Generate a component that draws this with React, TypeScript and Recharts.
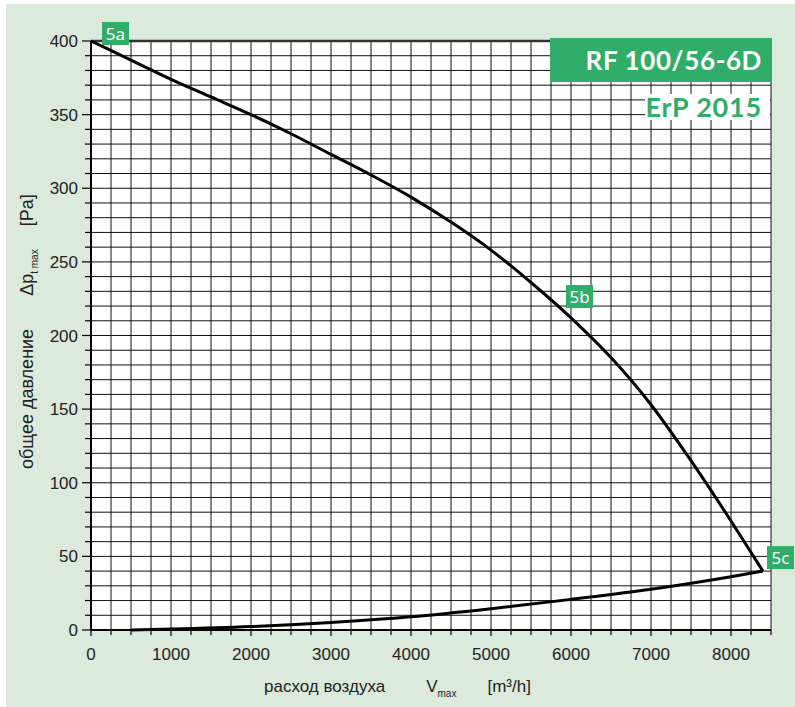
import React from "react"
import {
  ComposedChart,
  Line,
  XAxis,
  YAxis,
  CartesianGrid,
  ReferenceDot,
  ReferenceLine
} from "recharts"

// fan curve (5a -> 5b -> 5c)
const fanFlow = [0, 500, 1000, 1500, 2000, 2500, 3000, 3500, 4000, 4500, 5000, 5500, 6000, 6500, 7000, 7500, 8000, 8400]
const fanPressure = [400, 387, 374, 362, 350, 337, 323, 309, 294, 277, 258, 236, 212, 185, 153, 115, 74, 40]

// system curve up to 5c
const systemFlow = [500, 1000, 2000, 3000, 4000, 5000, 6000, 7000, 8000, 8400]
const systemPressure = [0, 0.6, 2.3, 5.1, 9, 14.5, 20.8, 27.7, 36.2, 40]

const markerNames = ["5a", "5b", "5c"]
const markerFlow = [0, 5850, 8400]
const markerPressure = [400, 220, 40]

const flowTicks = Array.from({ length: 35 }, (_, i) => i * 250)
const pressureTicks = Array.from({ length: 41 }, (_, i) => i * 10)

const fanData = fanFlow.map((v, i) => ({ v, p: fanPressure[i] }))
const systemData = systemFlow.map((v, i) => ({ v, p: systemPressure[i] }))

const GREEN = "#31ad6a"
const BG = "#dbeadb"
const FONT = "'Liberation Sans', Arial, sans-serif"

// where the little green tags sit relative to their point
const tagOffset: Record<string, [number, number]> = {
  "5a": [11, -19],
  "5b": [7, -21],
  "5c": [4, -25]
}

const XTick = (props: any) => {
  const { x, y, payload } = props
  const major = payload.value % 1000 === 0
  return (
    <g>
      <line x1={x} x2={x} y1={y} y2={y + (major ? 6 : 5)} stroke="#000" strokeWidth={1.2} />
      {major && (
        <text x={x} y={y + 30} textAnchor="middle" fontSize={17} fontFamily={FONT} fill="#222">
          {payload.value}
        </text>
      )}
    </g>
  )
}

const YTick = (props: any) => {
  const { x, y, payload } = props
  const major = payload.value % 50 === 0
  return (
    <g>
      <line x1={x - (major ? 9 : 6)} x2={x} y1={y} y2={y} stroke="#000" strokeWidth={1.2} />
      {major && (
        <text x={x - 13} y={y + 6} textAnchor="end" fontSize={17} fontFamily={FONT} fill="#222">
          {payload.value}
        </text>
      )}
    </g>
  )
}

const makeTag = (name: string) => (props: any) => {
  const { cx, cy } = props
  const [dx, dy] = tagOffset[name]
  return (
    <g>
      <rect x={cx + dx} y={cy + dy} width={27} height={23} fill={GREEN} />
      <text
        x={cx + dx + 13.5}
        y={cy + dy + 18}
        textAnchor="middle"
        fontSize={17}
        fontFamily="'Noto Sans', sans-serif"
        fill="#fff"
      >
        {name}
      </text>
    </g>
  )
}

const XTitle = (props: any) => {
  const vb = props.viewBox
  return (
    <text x={vb.x + 173} y={692} fontSize={17} fontFamily={FONT} fill="#222">
      расход воздуха
      <tspan dx={41}>V</tspan>
      <tspan fontSize={10} dy={5}>max</tspan>
      <tspan dy={-5} dx={31}>[m³/h]</tspan>
    </text>
  )
}

const YTitle = () => (
  <text x={33} y={469} transform="rotate(-90 33 469)" fontSize={18} fontFamily={FONT} fill="#222">
    общее давление
    <tspan dx={33}>Δp</tspan>
    <tspan fontSize={10} dy={5}>t max</tspan>
    <tspan dy={-5} dx={23}>[Pa]</tspan>
  </text>
)

export default function App() {
  return (
    <div style={{ position: "absolute", left: 0, top: 0, width: 795, height: 707, background: "#fff" }}>
      <div style={{ position: "absolute", left: 6, top: 4, right: 0, bottom: 0, background: BG }} />
      <div style={{ position: "absolute", left: 0, top: 0 }}>
        <ComposedChart width={795} height={707} margin={{ top: 41, right: 24, bottom: 0, left: 0 }}>
          <CartesianGrid fill="#fff" stroke="#111" strokeWidth={1} />
          <XAxis
            type="number"
            dataKey="v"
            domain={[0, 8500]}
            ticks={flowTicks}
            interval={0}
            tickSize={0}
            tickMargin={0}
            height={77}
            tick={<XTick />}
            tickLine={false}
            axisLine={{ stroke: "#000", strokeWidth: 2 }}
            label={{ content: (p: any) => <XTitle {...p} /> }}
          />
          <YAxis
            type="number"
            domain={[0, 400]}
            ticks={pressureTicks}
            interval={0}
            tickSize={0}
            tickMargin={0}
            width={91}
            tick={<YTick />}
            tickLine={false}
            axisLine={{ stroke: "#000", strokeWidth: 2 }}
            label={{ content: () => <YTitle /> }}
          />
          <ReferenceLine y={400} stroke="#333" strokeWidth={2.5} />
          <Line
            data={systemData}
            dataKey="p"
            type="monotone"
            stroke="#000"
            strokeWidth={3}
            dot={false}
            isAnimationActive={false}
          />
          <Line
            data={fanData}
            dataKey="p"
            type="monotone"
            stroke="#000"
            strokeWidth={3}
            dot={false}
            isAnimationActive={false}
          />
          {markerNames.map((name, i) => (
            <ReferenceDot
              key={name}
              x={markerFlow[i]}
              y={markerPressure[i]}
              r={0}
              shape={makeTag(name)}
            />
          ))}
        </ComposedChart>
      </div>
      <div
        style={{
          position: "absolute",
          left: 550,
          top: 38,
          width: 222,
          height: 44,
          background: GREEN,
          color: "#fff",
          fontFamily: "Lato, sans-serif",
          fontWeight: 700,
          fontSize: 26,
          letterSpacing: 0.6,
          lineHeight: "44px",
          textAlign: "right",
          paddingRight: 10,
          boxSizing: "border-box"
        }}
      >
        RF 100/56-6D
      </div>
      <div
        style={{
          position: "absolute",
          left: 645,
          top: 94,
          width: 125,
          height: 26,
          background: "#fff",
          color: GREEN,
          fontFamily: "Lato, sans-serif",
          fontWeight: 700,
          fontSize: 27,
          letterSpacing: 0.8,
          lineHeight: "26px",
          textAlign: "right",
          paddingRight: 8,
          boxSizing: "border-box"
        }}
      >
        ErP 2015
      </div>
    </div>
  )
}
